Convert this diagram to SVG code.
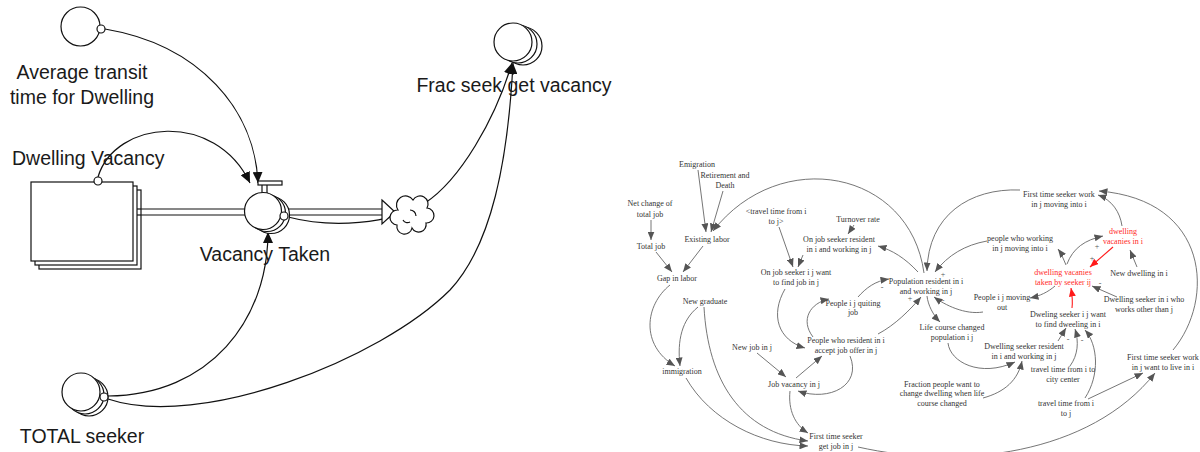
<svg xmlns="http://www.w3.org/2000/svg" width="1200" height="452" viewBox="0 0 1200 452">
<defs>
<style>
.lbl{font-family:"Liberation Sans",Arial,sans-serif;font-size:19.5px;fill:#1a1a1a}
.t{font-family:"Liberation Serif","Times New Roman",serif;font-size:8px;fill:#333;text-anchor:middle}
.r{fill:#ff2a2a}
.sg{font-family:"Liberation Serif","Times New Roman",serif;font-size:8px;fill:#555;text-anchor:middle}
.k{fill:none;stroke:#111;stroke-width:1.2}
.kc{fill:#fff;stroke:#111;stroke-width:1.2}
.c{fill:none;stroke:#666;stroke-width:0.9}
.cr{fill:none;stroke:#ff1a1a;stroke-width:1.1}
</style>
<marker id="ab" markerUnits="userSpaceOnUse" markerWidth="12" markerHeight="10" refX="11" refY="5" orient="auto"><path d="M0,0 L11,5 L0,10 z" fill="#111"/></marker>
<marker id="ag" markerUnits="userSpaceOnUse" markerWidth="9" markerHeight="7" refX="8.5" refY="3.5" orient="auto"><path d="M0,0 L8.5,3.5 L0,7 z" fill="#555"/></marker>
<marker id="ar" markerUnits="userSpaceOnUse" markerWidth="9" markerHeight="7" refX="8.5" refY="3.5" orient="auto"><path d="M0,0 L8.5,3.5 L0,7 z" fill="#ff1a1a"/></marker>
</defs>
<rect width="1200" height="452" fill="#fff"/>
<g id="diagram" opacity="0.995">

<!-- LEFT: stock and flow -->
<g id="connectors-left">
<path class="k" d="M105 29 C200 45, 255 110, 258 183" marker-end="url(#ab)"/>
<path class="k" d="M98 177 C115 120, 215 110, 250 183" marker-end="url(#ab)"/>
<path class="k" d="M108 396 C210 395, 268 320, 268 232" marker-end="url(#ab)"/>
<path class="k" d="M108 399 C200 430, 380 360, 450 290 C492 245, 508 160, 513 63" marker-end="url(#ab)"/>
<path class="k" d="M288 217 C330 228, 390 225, 425 203 C460 180, 495 120, 512 63" marker-end="url(#ab)"/>
</g>

<g id="flow-pipe">
<line x1="133" y1="209" x2="383" y2="209" stroke="#111" stroke-width="1.2"/>
<line x1="133" y1="215" x2="383" y2="215" stroke="#111" stroke-width="1.2"/>
<polygon points="382,200 395,212 382,224" fill="#fff" stroke="#111" stroke-width="1.2"/>
</g>

<g id="cloud">
<path class="kc" d="M397 225 a7.5 7.5 0 0 1 1 -15 a8.5 8.5 0 0 1 15 -10 a8 8 0 0 1 14 8 a7.5 7.5 0 0 1 -1 15 a7.5 7.5 0 0 1 -14 5 a7.5 7.5 0 0 1 -15 -3 z"/>
<path class="k" d="M410 210 a6 6 0 0 1 6 6 M403 220 a5 5 0 0 0 7 2"/>
</g>

<g id="stock-dwelling-vacancy">
<rect x="39" y="190" width="102" height="79" class="kc" stroke-width="2"/>
<rect x="35" y="186" width="102" height="79" class="kc" stroke-width="2"/>
<line x1="137" y1="209" x2="141" y2="209" stroke="#111" stroke-width="1.2"/>
<line x1="137" y1="215" x2="141" y2="215" stroke="#111" stroke-width="1.2"/>
<rect x="31" y="182" width="102" height="79" class="kc" stroke-width="2"/>
<circle cx="98" cy="181" r="4" class="kc"/>
<text class="lbl" x="12" y="165">Dwelling Vacancy</text>
</g>

<g id="valve-vacancy-taken">
<rect x="258" y="181" width="24" height="4" class="kc"/>
<line x1="262" y1="185" x2="262" y2="194" stroke="#111" stroke-width="1.2"/>
<line x1="267" y1="185" x2="267" y2="194" stroke="#111" stroke-width="1.2"/>
<circle cx="271" cy="215" r="18.5" class="kc"/>
<circle cx="267" cy="213" r="18.5" class="kc"/>
<circle cx="263" cy="211" r="18.5" class="kc"/>
<circle cx="284" cy="216" r="4" class="kc"/>
<text class="lbl" x="265" y="261" text-anchor="middle">Vacancy Taken</text>
</g>

<g id="aux-average-transit">
<circle cx="80.5" cy="26.5" r="19.5" class="kc"/>
<circle cx="101" cy="29" r="4" class="kc"/>
<text class="lbl" x="82" y="79" text-anchor="middle">Average transit</text>
<text class="lbl" x="82" y="104" text-anchor="middle">time for Dwelling</text>
</g>

<g id="aux-total-seeker">
<circle cx="89" cy="397" r="19" class="kc"/>
<circle cx="85" cy="395" r="19" class="kc"/>
<circle cx="81" cy="392" r="19" class="kc"/>
<circle cx="104" cy="397" r="4" class="kc"/>
<text class="lbl" x="82" y="443" text-anchor="middle">TOTAL seeker</text>
</g>

<g id="aux-frac-seek">
<circle cx="523" cy="46" r="19" class="kc"/>
<circle cx="518" cy="44" r="19" class="kc"/>
<circle cx="513" cy="42" r="19" class="kc"/>
<text class="lbl" x="514" y="92" text-anchor="middle">Frac seek get vacancy</text>
</g>

<!-- RIGHT: causal loop diagram -->
<g id="connectors-right">
<path class="c" d="M698 170 L706 232" marker-end="url(#ag)"/>
<path class="c" d="M723 191 L711 232" marker-end="url(#ag)"/>
<path class="c" d="M924 273 C910 170, 780 145, 713 231" marker-end="url(#ag)"/>
<path class="c" d="M651 220 L651 240" marker-end="url(#ag)"/>
<path class="c" d="M656 252 L672 272" marker-end="url(#ag)"/>
<path class="c" d="M703 246 L683 272" marker-end="url(#ag)"/>
<path class="c" d="M670 285 C645 305, 640 345, 675 366" marker-end="url(#ag)"/>
<path class="c" d="M698 307 C682 320, 677 340, 680 366" marker-end="url(#ag)"/>
<path class="c" d="M704 307 C708 380, 740 432, 808 441" marker-end="url(#ag)"/>
<path class="c" d="M686 378 C710 420, 760 445, 808 446" marker-end="url(#ag)"/>
<path class="c" d="M790 391 C788 410, 795 425, 808 433" marker-end="url(#ag)"/>
<path class="c" d="M757 353 L786 377" marker-end="url(#ag)"/>
<path class="c" d="M796 378 L822 356" marker-end="url(#ag)"/>
<path class="c" d="M850 356 C862 385, 830 402, 798 391" marker-end="url(#ag)"/>
<path class="c" d="M785 289 C770 315, 778 340, 805 348" marker-end="url(#ag)"/>
<path class="c" d="M813 337 C800 320, 810 303, 829 299" marker-end="url(#ag)"/>
<path class="c" d="M858 297 C866 288, 875 281, 889 279" marker-end="url(#ag)"/>
<path class="c" d="M878 334 C895 325, 910 310, 921 297" marker-end="url(#ag)"/>
<path class="c" d="M927 296 C928 305, 933 315, 940 322" marker-end="url(#ag)"/>
<path class="c" d="M983 312 C965 315, 945 305, 934 297" marker-end="url(#ag)"/>
<path class="c" d="M918 272 C905 258, 892 250, 878 246" marker-end="url(#ag)"/>
<path class="c" d="M854 225 L848 234" marker-end="url(#ag)"/>
<path class="c" d="M779 227 L793 267" marker-end="url(#ag)"/>
<path class="c" d="M803 255 L798 267" marker-end="url(#ag)"/>
<path class="c" d="M1020 190 C970 188, 928 215, 927 271" marker-end="url(#ag)"/>
<path class="c" d="M987 241 C965 245, 948 255, 935 272" marker-end="url(#ag)"/>
<path class="c" d="M1066 265 C1063 258, 1061 253, 1058 249" marker-end="url(#ag)"/>
<path class="c" d="M1067 264 C1073 248, 1085 240, 1103 236" marker-end="url(#ag)"/>
<path class="cr" d="M1113 247 L1090 267" marker-end="url(#ar)"/>
<path class="c" d="M1137 267 L1130 250" marker-end="url(#ag)"/>
<path class="c" d="M1122 226 C1120 212, 1112 200, 1098 195" marker-end="url(#ag)"/>
<path class="c" d="M1173 350 C1215 300, 1210 200, 1099 191" marker-end="url(#ag)"/>
<path class="c" d="M1055 286 C1048 292, 1040 296, 1030 298" marker-end="url(#ag)"/>
<path class="c" d="M1117 297 L1092 286" marker-end="url(#ag)"/>
<path class="cr" d="M1072 308 C1073 300, 1072 294, 1071 288" marker-end="url(#ar)"/>
<path class="c" d="M1058 341 L1066 328" marker-end="url(#ag)"/>
<path class="c" d="M1070 366 C1078 355, 1079 342, 1075 329" marker-end="url(#ag)"/>
<path class="c" d="M1085 398 C1100 375, 1098 345, 1085 330" marker-end="url(#ag)"/>
<path class="c" d="M1088 399 L1143 373" marker-end="url(#ag)"/>
<path class="c" d="M858 447 C960 470, 1090 455, 1155 373" marker-end="url(#ag)"/>
<path class="c" d="M948 343 C950 362, 980 378, 1015 362" marker-end="url(#ag)"/>
<path class="c" d="M983 398 C1005 392, 1018 380, 1022 361" marker-end="url(#ag)"/>
</g>

<g id="signs">
<text class="sg" x="882" y="290">-</text>
<text class="sg" x="910" y="301">+</text>
<text class="sg" x="943" y="277">+</text>
<text class="sg r" x="943" y="303" font-size="7">-</text>
<text class="sg" x="1097" y="249">+</text>
<text class="sg" x="1092" y="261">+</text>
<text class="sg" x="1100" y="286">-</text>
<text class="sg" x="1068" y="342">-</text>
<text class="sg" x="1082" y="343">-</text>
</g>

<g id="n-emigration"><text class="t" x="697" y="167">Emigration</text></g>
<g id="n-retirement"><text class="t" x="725" y="178">Retirement and</text><text class="t" x="725" y="188">Death</text></g>
<g id="n-net-change"><text class="t" x="650" y="206">Net change of</text><text class="t" x="650" y="217">total job</text></g>
<g id="n-total-job"><text class="t" x="651" y="249">Total job</text></g>
<g id="n-existing-labor"><text class="t" x="707" y="242">Existing labor</text></g>
<g id="n-gap-labor"><text class="t" x="677" y="281">Gap in labor</text></g>
<g id="n-travel-shadow"><text class="t" x="776" y="214">&lt;travel time from i</text><text class="t" x="776" y="224">to j&gt;</text></g>
<g id="n-onjob-want"><text class="t" x="796" y="275">On job seeker i j want</text><text class="t" x="796" y="285">to find job in j</text></g>
<g id="n-turnover"><text class="t" x="858" y="222">Turnover rate</text></g>
<g id="n-onjob-resident"><text class="t" x="839" y="242">On job seeker resident</text><text class="t" x="839" y="252">in i and working in j</text></g>
<g id="n-population"><text class="t" x="926" y="284">Population resident in i</text><text class="t" x="926" y="294">and working in j</text></g>
<g id="n-quiting"><text class="t" x="853" y="306">People i j quiting</text><text class="t" x="853" y="315">job</text></g>
<g id="n-accept"><text class="t" x="846" y="343">People who resident in i</text><text class="t" x="846" y="353">accept job offer in j</text></g>
<g id="n-new-job"><text class="t" x="752" y="350">New job in j</text></g>
<g id="n-job-vacancy"><text class="t" x="794" y="387">Job vacancy in j</text></g>
<g id="n-fts-job"><text class="t" x="836" y="439">First time seeker</text><text class="t" x="836" y="449">get job in j</text></g>
<g id="n-new-graduate"><text class="t" x="705" y="304">New graduate</text></g>
<g id="n-immigration"><text class="t" x="682" y="374">immigration</text></g>
<g id="n-life-course"><text class="t" x="952" y="330">Life course changed</text><text class="t" x="952" y="340">population i j</text></g>
<g id="n-fraction"><text class="t" x="942" y="387">Fraction people want to</text><text class="t" x="942" y="396">change dwelling when life</text><text class="t" x="942" y="406">course changed</text></g>
<g id="n-dw-resident"><text class="t" x="1024" y="349">Dwelling seeker resident</text><text class="t" x="1024" y="359">in i and working in j</text></g>
<g id="n-dw-want"><text class="t" x="1068" y="317">Dweling seeker i j want</text><text class="t" x="1068" y="327">to find dweeling in i</text></g>
<g id="n-tt-city"><text class="t" x="1063" y="372">travel time from i to</text><text class="t" x="1063" y="382">city center</text></g>
<g id="n-tt-ij"><text class="t" x="1066" y="406">travel time from i</text><text class="t" x="1066" y="416">to j</text></g>
<g id="n-fts-live"><text class="t" x="1163" y="360">First time seeker work</text><text class="t" x="1163" y="370">in j want to live in i</text></g>
<g id="n-dw-other"><text class="t" x="1144" y="302">Dwelling seeker in i who</text><text class="t" x="1144" y="312">works other than j</text></g>
<g id="n-moving-out"><text class="t" x="1002" y="300">People i j moving</text><text class="t" x="1002" y="310">out</text></g>
<g id="n-dv-taken"><text class="t r" x="1063" y="275">dwelling vacanies</text><text class="t r" x="1063" y="285">taken by seeker ij</text></g>
<g id="n-dv-in-i"><text class="t r" x="1123" y="234">dwelling</text><text class="t r" x="1123" y="244">vacanies in i</text></g>
<g id="n-new-dwelling"><text class="t" x="1139" y="276">New dwelling in i</text></g>
<g id="n-pw-moving"><text class="t" x="1020" y="241">people who working</text><text class="t" x="1020" y="251">in j moving into i</text></g>
<g id="n-fts-moving"><text class="t" x="1059" y="197">First time seeker work</text><text class="t" x="1059" y="207">in j moving into i</text></g>
</g>
</svg>
